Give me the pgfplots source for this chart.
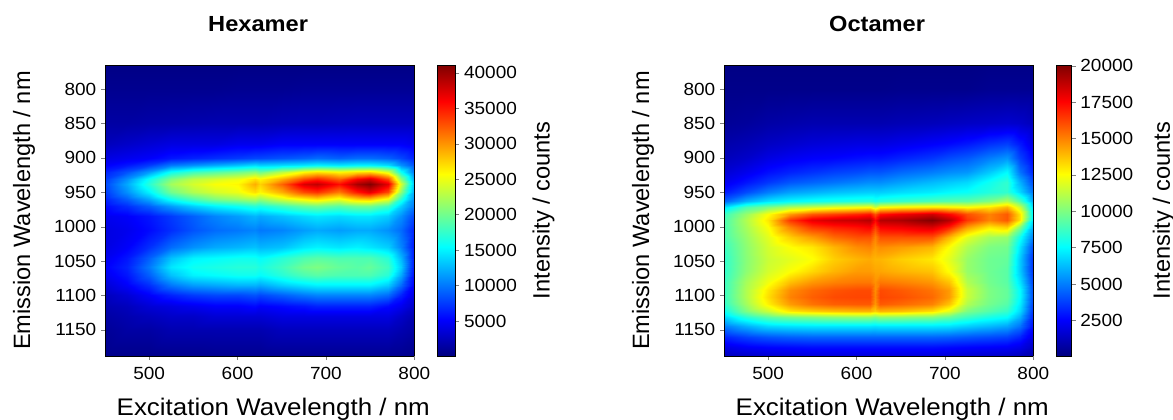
\documentclass[border=0pt]{standalone}
\usepackage{pgfplots}
\pgfplotsset{compat=1.18}
\usepackage{fontspec}
\setmainfont{Liberation Sans}
\newfontfamily\hf[FakeStretch=1.08]{Liberation Sans}
\newcommand\tf{\hf\fontsize{13.2}{15}\selectfont}
\newcommand\lf{\hf\fontsize{18}{20}\selectfont}
\newcommand\ttlf{\hf\fontsize{16.4}{20}\selectfont\bfseries}
\newcommand\vf{\fontsize{17.7}{20}\selectfont}
\pgfplotsset{hm/.style={
 scale only axis,anchor=south west,width=232pt,height=218.25pt,
 xmin=450,xmax=800,ymin=765,ymax=1188,y dir=reverse,view={0}{90},
 xtick={500,600,700,800},ytick={800,850,...,1150},
 tick align=outside,tick pos=left,major tick length=3pt,
 /pgf/number format/assume math mode=true,
 /pgf/number format/set thousands separator={},
 tick label style={font=\tf},xticklabel style={yshift=-1.5pt},
 xlabel={Excitation Wavelength / nm},ylabel={Emission Wavelength / nm},
 xlabel style={font=\lf,at={(axis description cs:0.544,-0.183)},anchor=center},
 ylabel style={font=\vf,at={(axis description cs:-0.262,0.5)},anchor=center},
 title style={font=\ttlf,at={(axis description cs:0.495,1.114)},anchor=center},
 colormap/jet,colorbar},
 cb/.style={anchor=south west,width=13.5pt,height=218.25pt,scale only axis,
  ylabel={Intensity / counts},scaled y ticks=false,
  yticklabel pos=right,tick pos=right,tick align=outside,major tick length=3pt,
  /pgf/number format/assume math mode=true,/pgf/number format/set thousands separator={},
  yticklabel style={font=\tf}}}
\begin{document}
\begin{tikzpicture}
\begin{axis}[hm,at={(78.75pt,48pt)},title={Hexamer},point meta min=60,point meta max=41100,
 colorbar style={cb,at={(1.0744,0)},ytick={5000,10000,...,40000},
  ylabel style={font=\vf,at={(axis description cs:5.9,0.5)},anchor=center}}]
\addplot3[surf,shader=interp,mesh/rows=24,mesh/cols=18] coordinates {
(450,765,300)(475,765,300)(500,765,300)(525,765,300)(550,765,300)(575,765,300)(600,765,300)(620,765,300)(625,765,300)(650,765,300)(675,765,300)(690,765,300)(715,765,300)(735,765,300)(750,765,300)(770,765,300)(785,765,300)(800,765,300)
(450,800,700)(475,800,700)(500,800,700)(525,800,700)(550,800,700)(575,800,700)(600,800,800)(620,800,800)(625,800,800)(650,800,800)(675,800,900)(690,800,900)(715,800,900)(735,800,900)(750,800,900)(770,800,900)(785,800,900)(800,800,900)
(450,850,1500)(475,850,1500)(500,850,1700)(525,850,1800)(550,850,1900)(575,850,2000)(600,850,2000)(620,850,2000)(625,850,2000)(650,850,2200)(675,850,2300)(690,850,2300)(715,850,2400)(735,850,2500)(750,850,2500)(770,850,2500)(785,850,2500)(800,850,2500)
(450,880,2500)(475,880,3000)(500,880,3500)(525,880,4000)(550,880,4000)(575,880,4000)(600,880,4500)(620,880,4500)(625,880,4500)(650,880,5000)(675,880,5000)(690,880,5000)(715,880,5000)(735,880,5000)(750,880,5000)(770,880,5000)(785,880,5000)(800,880,4500)
(450,900,4000)(475,900,4500)(500,900,5000)(525,900,6000)(550,900,6500)(575,900,7000)(600,900,7500)(620,900,8000)(625,900,8000)(650,900,8500)(675,900,9000)(690,900,9500)(715,900,9000)(735,900,9500)(750,900,9500)(770,900,9000)(785,900,8000)(800,900,6500)
(450,910,5000)(475,910,6000)(500,910,7500)(525,910,10000)(550,910,11000)(575,910,12000)(600,910,13000)(620,910,14000)(625,910,13500)(650,910,14000)(675,910,14500)(690,910,15000)(715,910,14500)(735,910,15000)(750,910,15000)(770,910,14000)(785,910,11000)(800,910,8500)
(450,920,6500)(475,920,8500)(500,920,11500)(525,920,16000)(550,920,18000)(575,920,19000)(600,920,20000)(620,920,21000)(625,920,20000)(650,920,23000)(675,920,26000)(690,920,27000)(715,920,26000)(735,920,27000)(750,920,27500)(770,920,24500)(785,920,16000)(800,920,10000)
(450,930,7500)(475,930,11000)(500,930,16000)(525,930,20500)(550,930,23000)(575,930,24000)(600,930,25000)(620,930,27000)(625,930,26000)(650,930,29000)(675,930,33000)(690,930,34500)(715,930,32000)(735,930,36000)(750,930,37500)(770,930,33000)(785,930,21000)(800,930,12000)
(450,938,8000)(475,938,12000)(500,938,17000)(525,938,22000)(550,938,24000)(575,938,25500)(600,938,26000)(620,938,29000)(625,938,27500)(650,938,32000)(675,938,37500)(690,938,38500)(715,938,35500)(735,938,39500)(750,938,41000)(770,938,37000)(785,938,24000)(800,938,13000)
(450,950,7500)(475,950,11000)(500,950,15000)(525,950,20000)(550,950,22500)(575,950,24000)(600,950,25000)(620,950,27000)(625,950,26000)(650,950,29000)(675,950,33000)(690,950,34000)(715,950,31000)(735,950,35000)(750,950,37000)(770,950,33000)(785,950,21000)(800,950,12000)
(450,960,6500)(475,960,9000)(500,960,12000)(525,960,16000)(550,960,18500)(575,960,20500)(600,960,21500)(620,960,22500)(625,960,21500)(650,960,24000)(675,960,26000)(690,960,27000)(715,960,25000)(735,960,27500)(750,960,28000)(770,960,25000)(785,960,17000)(800,960,11000)
(450,970,5500)(475,970,7000)(500,970,9000)(525,970,11500)(550,970,13500)(575,970,15000)(600,970,16000)(620,970,17000)(625,970,16500)(650,970,18000)(675,970,19500)(690,970,20000)(715,970,19000)(735,970,20000)(750,970,20000)(770,970,18000)(785,970,13500)(800,970,10000)
(450,985,4500)(475,985,5000)(500,985,6000)(525,985,7500)(550,985,9000)(575,985,10500)(600,985,11500)(620,985,12500)(625,985,12000)(650,985,13000)(675,985,14000)(690,985,14500)(715,985,14000)(735,985,14500)(750,985,14500)(770,985,13500)(785,985,11000)(800,985,8000)
(450,1005,4000)(475,1005,4500)(500,1005,5500)(525,1005,7000)(550,1005,8500)(575,1005,9500)(600,1005,10000)(620,1005,10500)(625,1005,10000)(650,1005,10500)(675,1005,11500)(690,1005,12000)(715,1005,11500)(735,1005,12000)(750,1005,12000)(770,1005,11000)(785,1005,9500)(800,1005,6500)
(450,1030,4000)(475,1030,5000)(500,1030,7000)(525,1030,9500)(550,1030,11000)(575,1030,12000)(600,1030,12500)(620,1030,13000)(625,1030,12500)(650,1030,13000)(675,1030,14500)(690,1030,15000)(715,1030,14500)(735,1030,15000)(750,1030,14500)(770,1030,13500)(785,1030,10500)(800,1030,6000)
(450,1045,4500)(475,1045,6000)(500,1045,9000)(525,1045,13000)(550,1045,15000)(575,1045,15500)(600,1045,16000)(620,1045,16000)(625,1045,15500)(650,1045,17000)(675,1045,18500)(690,1045,19000)(715,1045,18500)(735,1045,18500)(750,1045,18500)(770,1045,17000)(785,1045,12500)(800,1045,6000)
(450,1058,5000)(475,1058,6500)(500,1058,10000)(525,1058,14500)(550,1058,16000)(575,1058,16500)(600,1058,17000)(620,1058,17000)(625,1058,16500)(650,1058,18000)(675,1058,20000)(690,1058,20500)(715,1058,19500)(735,1058,19000)(750,1058,19500)(770,1058,18000)(785,1058,13500)(800,1058,6000)
(450,1070,4500)(475,1070,6000)(500,1070,9000)(525,1070,13000)(550,1070,15000)(575,1070,15500)(600,1070,16000)(620,1070,16000)(625,1070,15500)(650,1070,17000)(675,1070,18500)(690,1070,19000)(715,1070,18500)(735,1070,18500)(750,1070,18500)(770,1070,17000)(785,1070,12000)(800,1070,5500)
(450,1085,3500)(475,1085,5000)(500,1085,7000)(525,1085,10000)(550,1085,11500)(575,1085,12000)(600,1085,12500)(620,1085,12500)(625,1085,12000)(650,1085,13500)(675,1085,14500)(690,1085,15000)(715,1085,15000)(735,1085,15000)(750,1085,15000)(770,1085,13500)(785,1085,9500)(800,1085,5000)
(450,1100,2500)(475,1100,3500)(500,1100,5000)(525,1100,6500)(550,1100,7500)(575,1100,8000)(600,1100,8000)(620,1100,8500)(625,1100,8000)(650,1100,9000)(675,1100,10000)(690,1100,10500)(715,1100,10500)(735,1100,10500)(750,1100,10500)(770,1100,9500)(785,1100,6500)(800,1100,4000)
(450,1115,2000)(475,1115,2500)(500,1115,3500)(525,1115,4000)(550,1115,4500)(575,1115,5000)(600,1115,5000)(620,1115,5500)(625,1115,5000)(650,1115,5500)(675,1115,6000)(690,1115,6500)(715,1115,6500)(735,1115,6500)(750,1115,6500)(770,1115,5500)(785,1115,4500)(800,1115,3000)
(450,1130,1500)(475,1130,2000)(500,1130,2500)(525,1130,3000)(550,1130,3000)(575,1130,3500)(600,1130,3500)(620,1130,3500)(625,1130,3500)(650,1130,4000)(675,1130,4000)(690,1130,4000)(715,1130,4000)(735,1130,4000)(750,1130,4000)(770,1130,4000)(785,1130,3000)(800,1130,2000)
(450,1150,1000)(475,1150,1500)(500,1150,1500)(525,1150,2000)(550,1150,2000)(575,1150,2000)(600,1150,2000)(620,1150,2000)(625,1150,2000)(650,1150,2500)(675,1150,2500)(690,1150,2500)(715,1150,2500)(735,1150,2500)(750,1150,2500)(770,1150,2500)(785,1150,2000)(800,1150,1500)
(450,1188,500)(475,1188,500)(500,1188,500)(525,1188,600)(550,1188,600)(575,1188,700)(600,1188,700)(620,1188,700)(625,1188,700)(650,1188,800)(675,1188,800)(690,1188,800)(715,1188,800)(735,1188,800)(750,1188,800)(770,1188,800)(785,1188,700)(800,1188,500)
};
\end{axis}
\begin{axis}[hm,at={(543pt,48pt)},title={Octamer},point meta min=50,point meta max=20050,
 colorbar style={cb,at={(1.0744,0)},width=11.5pt,ytick={2500,5000,...,20000},
  ylabel style={font=\vf,at={(axis description cs:7,0.5)},anchor=center}}]
\addplot3[surf,shader=interp,mesh/rows=27,mesh/cols=18] coordinates {
(450,765,150)(475,765,150)(500,765,150)(525,765,150)(550,765,150)(575,765,150)(600,765,150)(615,765,150)(621,765,150)(627,765,150)(650,765,150)(685,765,150)(705,765,150)(725,765,150)(750,765,200)(770,765,200)(785,765,200)(800,765,200)
(450,800,250)(475,800,250)(500,800,250)(525,800,250)(550,800,250)(575,800,250)(600,800,250)(615,800,250)(621,800,250)(627,800,250)(650,800,300)(685,800,300)(705,800,300)(725,800,300)(750,800,400)(770,800,400)(785,800,400)(800,800,400)
(450,850,500)(475,850,600)(500,850,800)(525,850,900)(550,850,1000)(575,850,1000)(600,850,1000)(615,850,1000)(621,850,1000)(627,850,1000)(650,850,1100)(685,850,1200)(705,850,1300)(725,850,1400)(750,850,1500)(770,850,1600)(785,850,1500)(800,850,1200)
(450,880,900)(475,880,1100)(500,880,1400)(525,880,1600)(550,880,1800)(575,880,1900)(600,880,2000)(615,880,2000)(621,880,2000)(627,880,2000)(650,880,2200)(685,880,2500)(705,880,2700)(725,880,3000)(750,880,3500)(770,880,3800)(785,880,3000)(800,880,2000)
(450,900,1200)(475,900,1500)(500,900,2000)(525,900,2300)(550,900,2500)(575,900,2600)(600,900,2800)(615,900,2900)(621,900,2900)(627,900,2900)(650,900,3200)(685,900,3600)(705,900,4000)(725,900,4300)(750,900,5000)(770,900,5500)(785,900,3800)(800,900,2600)
(450,920,1700)(475,920,2200)(500,920,2800)(525,920,3200)(550,920,3500)(575,920,3800)(600,920,4000)(615,920,4200)(621,920,4200)(627,920,4200)(650,920,4600)(685,920,5000)(705,920,5300)(725,920,5500)(750,920,6500)(770,920,7500)(785,920,4800)(800,920,3200)
(450,935,2200)(475,935,2900)(500,935,3600)(525,935,4200)(550,935,4500)(575,935,4800)(600,935,5100)(615,935,5300)(621,935,5300)(627,935,5300)(650,935,5700)(685,935,6200)(705,935,6500)(725,935,6800)(750,935,7800)(770,935,8500)(785,935,6000)(800,935,4000)
(450,950,3000)(475,950,4000)(500,950,5000)(525,950,5700)(550,950,6000)(575,950,6300)(600,950,6500)(615,950,6600)(621,950,6600)(627,950,6600)(650,950,6900)(685,950,7200)(705,950,7500)(725,950,7700)(750,950,8200)(770,950,8500)(785,950,6800)(800,950,4800)
(450,962,4500)(475,962,6000)(500,962,7000)(525,962,7500)(550,962,7800)(575,962,8000)(600,962,8200)(615,962,8300)(621,962,8000)(627,962,8300)(650,962,8600)(685,962,9000)(705,962,9200)(725,962,9300)(750,962,10000)(770,962,11000)(785,962,9000)(800,962,5800)
(450,972,7000)(475,972,9000)(500,972,10000)(525,972,11000)(550,972,11500)(575,972,12000)(600,972,12300)(615,972,12500)(621,972,11500)(627,972,12500)(650,972,12800)(685,972,13000)(705,972,12800)(725,972,12500)(750,972,13000)(770,972,14000)(785,972,11500)(800,972,6800)
(450,982,8700)(475,982,10500)(500,982,12500)(525,982,14500)(550,982,15800)(575,982,16300)(600,982,16800)(615,982,17200)(621,982,16000)(627,982,17200)(650,982,17800)(685,982,18500)(705,982,17500)(725,982,16000)(750,982,15000)(770,982,15800)(785,982,13000)(800,982,7200)
(450,990,9000)(475,990,11000)(500,990,13000)(525,990,16500)(550,990,18000)(575,990,18500)(600,990,18700)(615,990,19000)(621,990,17500)(627,990,19000)(650,990,19200)(685,990,20000)(705,990,19000)(725,990,16500)(750,990,15000)(770,990,15800)(785,990,13000)(800,990,7000)
(450,1000,9000)(475,1000,10800)(500,1000,12500)(525,1000,15000)(550,1000,16500)(575,1000,17000)(600,1000,17300)(615,1000,17600)(621,1000,16300)(627,1000,17600)(650,1000,17800)(685,1000,18300)(705,1000,17000)(725,1000,14500)(750,1000,13000)(770,1000,13500)(785,1000,10000)(800,1000,6000)
(450,1015,9000)(475,1015,10500)(500,1015,12000)(525,1015,13500)(550,1015,14500)(575,1015,15500)(600,1015,16000)(615,1015,16000)(621,1015,15000)(627,1015,16000)(650,1015,16000)(685,1015,16000)(705,1015,14000)(725,1015,12000)(750,1015,10800)(770,1015,10500)(785,1015,7800)(800,1015,5000)
(450,1030,8700)(475,1030,10300)(500,1030,11700)(525,1030,12500)(550,1030,13000)(575,1030,14000)(600,1030,14800)(615,1030,15000)(621,1030,14500)(627,1030,14800)(650,1030,14500)(685,1030,14000)(705,1030,12500)(725,1030,11000)(750,1030,10000)(770,1030,9800)(785,1030,7000)(800,1030,4000)
(450,1047,8500)(475,1047,10200)(500,1047,11500)(525,1047,12000)(550,1047,12500)(575,1047,13500)(600,1047,14000)(615,1047,14200)(621,1047,14000)(627,1047,14000)(650,1047,13500)(685,1047,13000)(705,1047,12000)(725,1047,10500)(750,1047,9700)(770,1047,9500)(785,1047,6500)(800,1047,3500)
(450,1065,8500)(475,1065,10300)(500,1065,11700)(525,1065,12500)(550,1065,13300)(575,1065,14000)(600,1065,14500)(615,1065,14500)(621,1065,14300)(627,1065,14300)(650,1065,14000)(685,1065,13700)(705,1065,12500)(725,1065,10500)(750,1065,9700)(770,1065,9300)(785,1065,6500)(800,1065,3500)
(450,1080,8700)(475,1080,10800)(500,1080,12300)(525,1080,13800)(550,1080,14600)(575,1080,15000)(600,1080,15200)(615,1080,15200)(621,1080,14700)(627,1080,15200)(650,1080,15000)(685,1080,14600)(705,1080,13700)(725,1080,11000)(750,1080,9800)(770,1080,9300)(785,1080,7000)(800,1080,3800)
(450,1092,8700)(475,1092,11000)(500,1092,13000)(525,1092,14800)(550,1092,15500)(575,1092,15900)(600,1092,16100)(615,1092,16100)(621,1092,14800)(627,1092,16100)(650,1092,15800)(685,1092,15300)(705,1092,14500)(725,1092,11500)(750,1092,10000)(770,1092,9500)(785,1092,7500)(800,1092,4000)
(450,1102,8700)(475,1102,11000)(500,1102,13200)(525,1102,15000)(550,1102,15700)(575,1102,16100)(600,1102,16200)(615,1102,16200)(621,1102,14900)(627,1102,16200)(650,1102,16000)(685,1102,15500)(705,1102,14500)(725,1102,11500)(750,1102,10000)(770,1102,9500)(785,1102,7500)(800,1102,4000)
(450,1112,8500)(475,1112,10700)(500,1112,12800)(525,1112,14500)(550,1112,15300)(575,1112,15700)(600,1112,15800)(615,1112,15800)(621,1112,14600)(627,1112,15800)(650,1112,15500)(685,1112,15000)(705,1112,13700)(725,1112,11000)(750,1112,9800)(770,1112,9200)(785,1112,7200)(800,1112,3800)
(450,1122,7800)(475,1122,10000)(500,1122,11500)(525,1122,13000)(550,1122,13500)(575,1122,13800)(600,1122,14000)(615,1122,14000)(621,1122,13500)(627,1122,14000)(650,1122,13800)(685,1122,13200)(705,1122,12000)(725,1122,10000)(750,1122,9200)(770,1122,8600)(785,1122,6800)(800,1122,3500)
(450,1132,6700)(475,1132,8300)(500,1132,9300)(525,1132,9800)(550,1132,10000)(575,1132,10200)(600,1132,10300)(615,1132,10300)(621,1132,10000)(627,1132,10300)(650,1132,10200)(685,1132,10000)(705,1132,9500)(725,1132,8700)(750,1132,8000)(770,1132,7600)(785,1132,6000)(800,1132,3200)
(450,1145,5000)(475,1145,6000)(500,1145,6800)(525,1145,7000)(550,1145,7100)(575,1145,7100)(600,1145,7100)(615,1145,7100)(621,1145,7000)(627,1145,7100)(650,1145,7100)(685,1145,7100)(705,1145,7000)(725,1145,6600)(750,1145,6200)(770,1145,5800)(785,1145,4800)(800,1145,2800)
(450,1160,3200)(475,1160,3800)(500,1160,4200)(525,1160,4400)(550,1160,4500)(575,1160,4500)(600,1160,4500)(615,1160,4500)(621,1160,4500)(627,1160,4500)(650,1160,4500)(685,1160,4500)(705,1160,4400)(725,1160,4200)(750,1160,4000)(770,1160,3800)(785,1160,3200)(800,1160,2000)
(450,1175,2000)(475,1175,2400)(500,1175,2600)(525,1175,2700)(550,1175,2800)(575,1175,2800)(600,1175,2800)(615,1175,2800)(621,1175,2800)(627,1175,2800)(650,1175,2800)(685,1175,2800)(705,1175,2700)(725,1175,2600)(750,1175,2500)(770,1175,2400)(785,1175,2100)(800,1175,1400)
(450,1188,1200)(475,1188,1400)(500,1188,1600)(525,1188,1700)(550,1188,1800)(575,1188,1800)(600,1188,1800)(615,1188,1800)(621,1188,1800)(627,1188,1800)(650,1188,1800)(685,1188,1800)(705,1188,1700)(725,1188,1600)(750,1188,1500)(770,1188,1400)(785,1188,1200)(800,1188,900)
};
\end{axis}
\pgfresetboundingbox
\path (0,0) rectangle (879.75pt,315pt);
\end{tikzpicture}
\end{document}
